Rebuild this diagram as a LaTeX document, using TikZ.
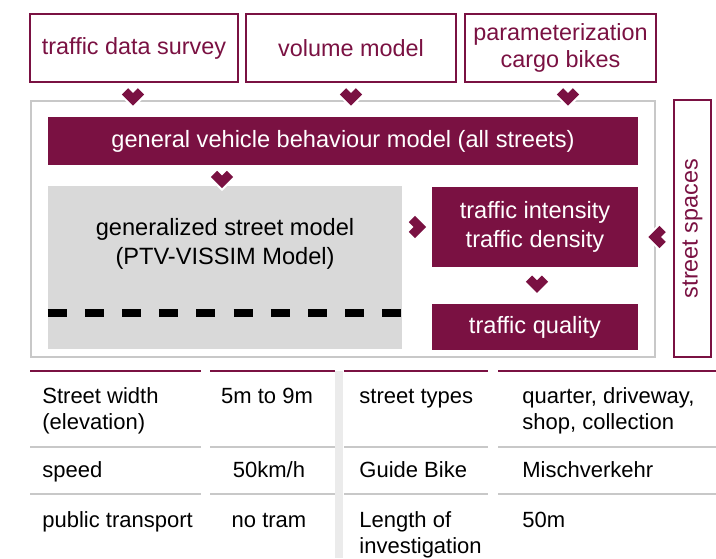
\documentclass[tikz,border=0pt]{standalone}
\usepackage{fontspec}
\setmainfont{Liberation Sans}
\usepackage{tikz}
\usetikzlibrary{positioning, calc}
\definecolor{wine}{RGB}{122,17,66}
\definecolor{framegray}{RGB}{200,200,200}
\definecolor{boxgray}{RGB}{217,217,217}
\definecolor{bargray}{RGB}{235,235,235}

\begin{document}
\begin{tikzpicture}[x=0.5pt, y=-0.5pt,
        inbox/.style={draw=wine, line width=1pt, text=wine, align=center, inner sep=0pt, font=\fontsize{11.7}{13.7}\selectfont},
        winebox/.style={fill=wine, text=white, align=center, inner sep=0pt, font=\fontsize{11.8}{14.4}\selectfont},
        cell/.style={anchor=base west, inner sep=0pt, align=left, font=\fontsize{11}{13}\selectfont},
        chev/.pic={\draw[white, line width=6.5pt] (-8,-8) -- (0,0) -- (8,-8);
                   \draw[wine, line width=4.4pt] (-8,-8) -- (0,0) -- (8,-8);}]
    \useasboundingbox (0,0) rectangle (716,558);

    \node[inbox, minimum width=104pt, minimum height=34pt] at (134,48)   (tds) {traffic data survey};
    \node[inbox, minimum width=105pt, minimum height=34pt] at (351,48)   (vol) {volume model};
    \node[inbox, minimum width=95.5pt, minimum height=34pt] at (560.5,48) (par) {parameterization\\cargo bikes};

    \node[draw=framegray, line width=1.3pt, minimum width=312pt, minimum height=128pt, inner sep=0pt] at (343,229) (frame) {};
    \node[inbox, rotate=90, minimum width=128.5pt, minimum height=18.5pt] at (692.5,228.5) (ss) {street spaces};

    \node[winebox, minimum width=295pt, minimum height=24pt] at (343,141) (gvb) {general vehicle behaviour model (all streets)};
    \node[fill=boxgray, minimum width=177pt, minimum height=81.5pt, inner sep=0pt] at (225,267.5) (gsm) {};
    \node[align=center, inner sep=0pt, font=\fontsize{11.8}{14.4}\selectfont] at (225,244) (gsmtext) {generalized street model\\(PTV-VISSIM Model)};
    \draw[line width=4pt, dash pattern=on 9.5pt off 9.1pt] (gsm.west |- 0,312.5) -- (gsm.east |- 0,312.5);

    \node[winebox, minimum width=103pt, minimum height=40pt] at (535,227) (tid) {traffic intensity\\traffic density};
    \node[winebox, minimum width=103pt, minimum height=23pt] at (535,327) (tq)  {traffic quality};

    \path (tds.south) ++(-1,16.3) pic {chev};
    \path (vol.south) ++(0,16.3) pic {chev};
    \path (par.south) ++(7.5,16.3) pic {chev};
    \path (gsm.north) ++(-3,-3.7) pic {chev};
    \path (tid.west) ++(-11.7,0) pic[rotate=90] {chev};
    \path (tid.south) ++(2,19.3) pic {chev};
    \path (ss.center) ++(-37.8,8.5) pic[rotate=-90] {chev};

    \fill[bargray] (335,371) rectangle (343,558);
    \foreach \a/\b in {30/201, 210/335, 344/488, 498/716} {
        \draw[wine, line width=1pt] (\a,371) -- (\b,371);
        \draw[framegray, line width=0.6pt] (\a,447) -- (\b,447);
        \draw[framegray, line width=0.6pt] (\a,494) -- (\b,494);
    }

    \node[cell] at (42,429)  (sw)  {Street width\\(elevation)};
    \node[cell] at (42,477)  (sp)  {speed};
    \node[cell] at (42,527)  (pt)  {public transport};
    \node[cell, anchor=base] at (267,403) (swv) {5m to 9m};
    \node[cell, anchor=base] at (269,477) (spv) {50km/h};
    \node[cell, anchor=base] at (269,527) (ptv) {no tram};
    \node[cell] at (359,403) (st)  {street types};
    \node[cell] at (359,477) (gb)  {Guide Bike};
    \node[cell] at (359,553) (li)  {Length of\\investigation};
    \node[cell] at (522,429) (stv) {quarter, driveway,\\shop, collection};
    \node[cell] at (522,477) (gbv) {Mischverkehr};
    \node[cell] at (522,527) (liv) {50m};
\end{tikzpicture}
\end{document}
